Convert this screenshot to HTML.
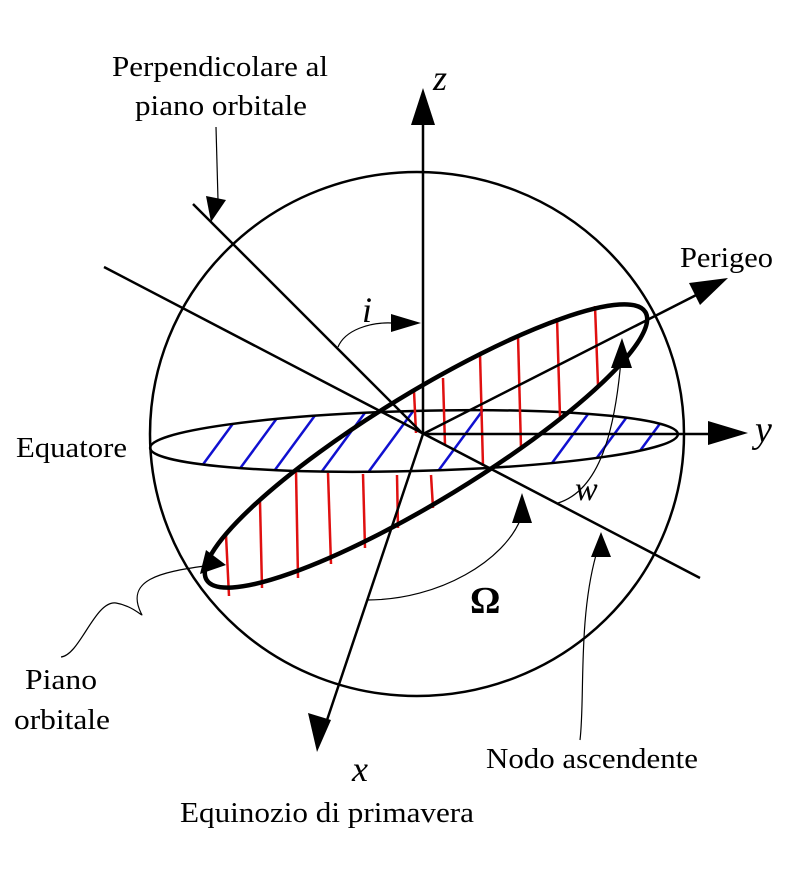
<!DOCTYPE html>
<html><head><meta charset="utf-8"><style>
html,body{margin:0;padding:0;background:#fff;}
svg{display:block;}
text{font-family:"Liberation Serif",serif;fill:#000;}
</style></head><body>
<svg width="791" height="872" viewBox="0 0 791 872" xmlns="http://www.w3.org/2000/svg">
<defs>
<clipPath id="eq"><ellipse cx="414" cy="441" rx="264" ry="30" transform="rotate(-1.5 414 441)"/></clipPath>
<mask id="hide">
<rect width="791" height="872" fill="#fff"/>
<polygon points="300,481 300,457 380,398 380,421" fill="#000"/>
</mask>
</defs>
<rect width="791" height="872" fill="#fff"/>
<ellipse cx="417" cy="434" rx="267" ry="262" fill="none" stroke="#000" stroke-width="2.5"/>
<g clip-path="url(#eq)" stroke="#1010d0" stroke-width="2.5">
<line x1="193" y1="478" x2="243" y2="410"/>
<line x1="233" y1="478" x2="283" y2="410"/>
<line x1="269" y1="478" x2="319" y2="410"/>
<line x1="317" y1="478" x2="367" y2="410"/>
<line x1="364" y1="478" x2="414" y2="410"/>
<line x1="433" y1="478" x2="483" y2="410"/>
<line x1="541" y1="478" x2="591" y2="410"/>
<line x1="582" y1="478" x2="632" y2="410"/>
<line x1="620" y1="478" x2="670" y2="410"/>
</g>
<ellipse cx="414" cy="441" rx="264" ry="30" transform="rotate(-1.5 414 441)" fill="none" stroke="#000" stroke-width="2.5"/>
<g stroke="#e01010" stroke-width="2.5">
<line x1="226" y1="535" x2="229" y2="596"/>
<line x1="260" y1="502" x2="262" y2="588"/>
<line x1="296" y1="471" x2="298" y2="578"/>
<line x1="328" y1="473" x2="331" y2="564"/>
<line x1="363" y1="474" x2="365" y2="548"/>
<line x1="397" y1="475" x2="398" y2="528"/>
<line x1="431" y1="475" x2="433" y2="508"/>
<line x1="414" y1="391" x2="416" y2="433"/>
<line x1="443" y1="378" x2="445" y2="445"/>
<line x1="480" y1="354" x2="483" y2="466"/>
<line x1="518" y1="336" x2="521" y2="448"/>
<line x1="557" y1="318" x2="560" y2="417"/>
<line x1="595" y1="306" x2="598" y2="385"/>
</g>
<ellipse mask="url(#hide)" cx="426" cy="446" rx="257" ry="54" transform="rotate(-31.4 426 446)" fill="none" stroke="#000" stroke-width="4.5"/>
<g stroke="#000" stroke-width="2.5" fill="none">
<line x1="423" y1="434" x2="423" y2="110"/>
<line x1="423" y1="434" x2="715" y2="434"/>
<line x1="423" y1="434" x2="322" y2="735"/>
<line x1="423" y1="434" x2="712" y2="287"/>
<line x1="193" y1="204" x2="423" y2="434"/>
<line x1="104" y1="267" x2="700" y2="578"/>
</g>
<g fill="#000">
<polygon points="423,88 411,125 435,125"/>
<polygon points="748,433 708,421 708,445"/>
<polygon points="728,278 689,283 700,305"/>
<polygon points="317,752 308,713 331,720"/>
<polygon points="421,323 391,314 391,332"/>
<polygon points="211,222 206,196 226,200"/>
<polygon points="622,338 611,368 632,368"/>
<polygon points="522,493 512,523 532,523"/>
<polygon points="601,532 591,557 611,557"/>
<polygon points="200,574 206,550 226,565"/>
</g>
<g stroke="#000" stroke-width="1.2" fill="none">
<path d="M338,347 C345,330 370,322 392,323"/>
<path d="M216,127 L218,200"/>
<path d="M558,503 C600,490 615,430 621,360"/>
<path d="M367,600 C440,600 505,560 521,518"/>
<path d="M580,740 C585,700 578,620 596,555"/>
<path d="M61,657 C80,655 95,600 116,603 C135,606 145,620 141,613 C125,580 160,572 205,566"/>
</g>
<text x="112" y="76" font-size="28" textLength="216" lengthAdjust="spacingAndGlyphs">Perpendicolare al</text>
<text x="135" y="115" font-size="28" textLength="172" lengthAdjust="spacingAndGlyphs">piano orbitale</text>
<text x="433" y="90" font-size="36" font-style="italic">z</text>
<text x="680" y="267" font-size="28" textLength="93" lengthAdjust="spacingAndGlyphs">Perigeo</text>
<text x="362" y="322" font-size="36" font-style="italic">i</text>
<text x="16" y="457" font-size="28" textLength="111" lengthAdjust="spacingAndGlyphs">Equatore</text>
<text x="755" y="442" font-size="38" font-style="italic">y</text>
<text x="575" y="500" font-size="34" font-style="italic">w</text>
<text x="470" y="613" font-size="38" font-weight="bold">Ω</text>
<text x="25" y="689" font-size="28" textLength="72" lengthAdjust="spacingAndGlyphs">Piano</text>
<text x="14" y="729" font-size="28" textLength="96" lengthAdjust="spacingAndGlyphs">orbitale</text>
<text x="352" y="781" font-size="36" font-style="italic">x</text>
<text x="486" y="768" font-size="28" textLength="212" lengthAdjust="spacingAndGlyphs">Nodo ascendente</text>
<text x="180" y="822" font-size="28" textLength="294" lengthAdjust="spacingAndGlyphs">Equinozio di primavera</text>
</svg>
</body></html>
